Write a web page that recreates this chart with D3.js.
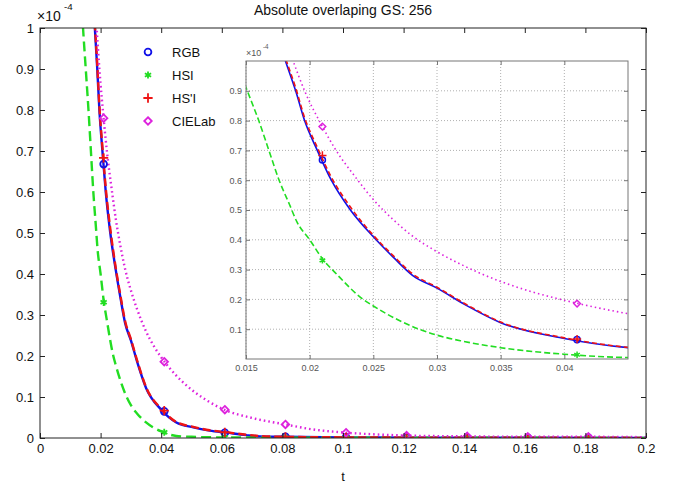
<!DOCTYPE html>
<html><head><meta charset="utf-8">
<script src="https://cdn.jsdelivr.net/npm/d3@7"></script>
<style>
body{margin:0;background:#fff}
svg{display:block}
text{font-family:"Liberation Sans",Arial,Helvetica,sans-serif}
</style>
</head><body>
<svg id="c" width="681" height="486"></svg>
<script>
// ---------------- DATA ----------------
const title = "Absolute overlaping GS: 256";
const xLabel = "t";
const seriesNames = ["RGB", "HSI", "HS'I", "CIELab"];

const tRGB = [0.0170, 0.0181, 0.0189, 0.0196, 0.0206, 0.0217, 0.0232, 0.0250, 0.0266, 0.0281, 0.0300, 0.0323, 0.0350, 0.0400, 0.0450, 0.0506, 0.0560, 0.0615, 0.0680, 0.0725, 0.0800, 0.1000, 0.1200, 0.1500, 0.2000];
const vRGB = [1.15, 1.0, 0.9, 0.8, 0.7, 0.6, 0.5, 0.41, 0.34, 0.28, 0.238, 0.18, 0.122, 0.069, 0.038, 0.026, 0.018, 0.013, 0.007, 0.004, 0.003, 0.0015, 0.001, 0.0007, 0.0004];

const tHSpI = tRGB;
const vHSpI = [1.16, 1.01, 0.91, 0.81, 0.71, 0.61, 0.51, 0.415, 0.345, 0.285, 0.241, 0.183, 0.124, 0.071, 0.039, 0.027, 0.019, 0.014, 0.008, 0.005, 0.003, 0.0016, 0.001, 0.0007, 0.0004];

const tHSI = [0.0130, 0.0142, 0.0151, 0.0160, 0.0168, 0.0176, 0.0184, 0.0190, 0.0200, 0.0211, 0.0220, 0.0242, 0.0250, 0.0270, 0.0286, 0.0300, 0.0320, 0.0350, 0.0400, 0.0450, 0.0500, 0.0600, 0.0800, 0.1000, 0.1500, 0.2000];
const vHSI = [1.15, 1.0, 0.9, 0.8, 0.7, 0.6, 0.52, 0.46, 0.4, 0.331, 0.29, 0.2, 0.178, 0.13, 0.1, 0.08, 0.06, 0.038, 0.016, 0.005, 0.003, 0.0015, 0.001, 0.0008, 0.0005, 0.0003];

const tLab = [0.0175, 0.0187, 0.0196, 0.0210, 0.0220, 0.0236, 0.0250, 0.0265, 0.0280, 0.0300, 0.0320, 0.0350, 0.0375, 0.0400, 0.0450, 0.0500, 0.0550, 0.0605, 0.0705, 0.0810, 0.0900, 0.1010, 0.1100, 0.1210, 0.1400, 0.1600, 0.1800, 0.2000];
const vLab = [1.15, 1.0, 0.9, 0.78, 0.705, 0.61, 0.535, 0.47, 0.415, 0.36, 0.315, 0.26, 0.225, 0.197, 0.152, 0.118, 0.092, 0.07, 0.048, 0.033, 0.021, 0.013, 0.009, 0.006, 0.004, 0.003, 0.003, 0.002];

const markT = [0.021, 0.041, 0.061, 0.081, 0.101, 0.121, 0.141, 0.161, 0.181];
const mRGB  = [0.668, 0.065, 0.013, 0.003, 0.0015, 0.001, 0.0007, 0.0005, 0.0004];
const mHSI  = [0.331, 0.014, 0.0015, 0.001, 0.0008, 0.0006, 0.0005, 0.0004, 0.0003];
const mHSpI = [0.683, 0.067, 0.014, 0.003, 0.0016, 0.001, 0.0007, 0.0005, 0.0004];
const mLab  = [0.78, 0.186, 0.069, 0.033, 0.013, 0.006, 0.004, 0.003, 0.003];

const xTicksMain = [0, 0.02, 0.04, 0.06, 0.08, 0.1, 0.12, 0.14, 0.16, 0.18, 0.2];
const xTickLabelsMain = ["0", "0.02", "0.04", "0.06", "0.08", "0.1", "0.12", "0.14", "0.16", "0.18", "0.2"];
const yTicksMain = [0, 0.1, 0.2, 0.3, 0.4, 0.5, 0.6, 0.7, 0.8, 0.9, 1];
const yTickLabelsMain = ["0", "0.1", "0.2", "0.3", "0.4", "0.5", "0.6", "0.7", "0.8", "0.9", "1"];
const xTicksInset = [0.015, 0.02, 0.025, 0.03, 0.035, 0.04];
const xTickLabelsInset = ["0.015", "0.02", "0.025", "0.03", "0.035", "0.04"];
const yTicksInset = [0.1, 0.2, 0.3, 0.4, 0.5, 0.6, 0.7, 0.8, 0.9];
const yTickLabelsInset = ["0.1", "0.2", "0.3", "0.4", "0.5", "0.6", "0.7", "0.8", "0.9"];

// ---------------- STYLE ----------------
const colors = {"RGB": "#1010e8", "HSI": "#22dd22", "HS'I": "#ee1414", "CIELab": "#dd22dd"};
const series = [
  {name: "RGB",    t: tRGB, v: vRGB, mv: mRGB},
  {name: "HSI",    t: tHSI, v: vHSI, mv: mHSI},
  {name: "HS'I",   t: tHSpI, v: vHSpI, mv: mHSpI},
  {name: "CIELab", t: tLab, v: vLab, mv: mLab}
];
const dashMain = {"RGB": null, "HSI": "10,5", "HS'I": "8,4", "CIELab": "1.6,3"};
const dashInset = {"RGB": null, "HSI": "6,3", "HS'I": "5,3", "CIELab": "1.5,3"};
const symType = {
  "RGB": d3.symbolCircle,
  "HSI": d3.symbolAsterisk || d3.symbolCross,
  "HS'I": d3.symbolPlus || d3.symbolCross,
  "CIELab": d3.symbolDiamond2 || d3.symbolDiamond
};
const symSize = {"RGB": 36, "HSI": 36, "HS'I": 30, "CIELab": 36};

const svg = d3.select("#c");
svg.append("rect").attr("width", 681).attr("height", 486).attr("fill", "#fff");
const defs = svg.append("defs");

function drawPanel(g, x, y, opts) {
  const [x0, x1] = x.range(), [y0, y1] = y.range();
  const clipId = opts.id + "clip";
  defs.append("clipPath").attr("id", clipId).append("rect")
    .attr("x", x0).attr("y", y1).attr("width", x1 - x0).attr("height", y0 - y1);
  g.append("rect").attr("x", x0).attr("y", y1).attr("width", x1 - x0).attr("height", y0 - y1)
    .attr("fill", "#fff");
  if (opts.grid) {
    const gg = g.append("g").attr("stroke", "#b0b0b0").attr("stroke-width", 1).attr("stroke-dasharray", "1,2");
    opts.xTicks.forEach(t => gg.append("line").attr("x1", x(t)).attr("x2", x(t)).attr("y1", y0).attr("y2", y1));
    opts.yTicks.forEach(t => gg.append("line").attr("x1", x0).attr("x2", x1).attr("y1", y(t)).attr("y2", y(t)));
  }
  const plot = g.append("g").attr("clip-path", `url(#${clipId})`);
  const line = d3.line().curve(d3.curveMonotoneX).x(d => x(d[0])).y(d => y(d[1]));
  series.forEach(s => {
    const pts = s.t.map((t, i) => [t, s.v[i]]);
    plot.append("path").attr("d", line(pts)).attr("fill", "none")
      .attr("stroke", colors[s.name]).attr("stroke-width", opts.lw)
      .attr("stroke-dasharray", opts.dash[s.name]);
  });
  series.forEach(s => {
    const sym = d3.symbol().type(symType[s.name]).size(symSize[s.name] * opts.ms);
    markT.forEach((t, i) => {
      plot.append("path").attr("d", sym())
        .attr("transform", `translate(${x(t)},${y(s.mv[i])})`)
        .attr("fill", "none").attr("stroke", colors[s.name]).attr("stroke-width", opts.mlw);
    });
  });
  const ac = opts.axisColor;
  const fmt = (ticks, labels) => (d => labels[ticks.indexOf(d)]);
  const ab = g.append("g").attr("transform", `translate(0,${y0})`)
    .call(d3.axisBottom(x).tickValues(opts.xTicks).tickFormat(fmt(opts.xTicks, opts.xLabels))
      .tickSizeInner(-opts.tick).tickSizeOuter(0).tickPadding(opts.xpad));
  const at = g.append("g").attr("transform", `translate(0,${y1})`)
    .call(d3.axisTop(x).tickValues(opts.xTicks).tickFormat("").tickSizeInner(-opts.tick).tickSizeOuter(0));
  const al = g.append("g").attr("transform", `translate(${x0},0)`)
    .call(d3.axisLeft(y).tickValues(opts.yTicks).tickFormat(fmt(opts.yTicks, opts.yLabels))
      .tickSizeInner(-opts.tick).tickSizeOuter(0).tickPadding(opts.ypad));
  const ar = g.append("g").attr("transform", `translate(${x1},0)`)
    .call(d3.axisRight(y).tickValues(opts.yTicks).tickFormat("").tickSizeInner(-opts.tick).tickSizeOuter(0));
  [ab, at, al, ar].forEach(a => {
    a.select(".domain").remove();
    a.selectAll("line").attr("stroke", ac);
    a.selectAll("text").attr("fill", opts.textColor).style("font-size", opts.fs + "px")
      .style("font-family", '"Liberation Sans",Arial,sans-serif');
  });
  g.append("rect").attr("x", x0).attr("y", y1).attr("width", x1 - x0).attr("height", y0 - y1)
    .attr("fill", "none").attr("stroke", ac).attr("stroke-width", 1);
  g.append("text").attr("x", opts.expX).attr("y", opts.expY).attr("fill", opts.textColor)
    .style("font-size", opts.expFs + "px").text("\u00d710");
  g.append("text").attr("x", opts.expX + opts.supDx).attr("y", opts.expY - opts.supDy).attr("fill", opts.textColor)
    .style("font-size", (opts.expFs * 0.7) + "px").text("-4");
}

const xMain = d3.scaleLinear().domain([0, 0.2]).range([40, 646]);
const yMain = d3.scaleLinear().domain([0, 1]).range([438, 28]);
drawPanel(svg.append("g"), xMain, yMain, {
  id: "main", grid: false, lw: 2.4, mlw: 1.8, ms: 1, dash: dashMain,
  xTicks: xTicksMain, xLabels: xTickLabelsMain, yTicks: yTicksMain, yLabels: yTickLabelsMain,
  tick: 5, xpad: 6, ypad: 6, fs: 13, axisColor: "#222", textColor: "#111",
  expX: 37, expY: 21, expFs: 14, supDx: 27, supDy: 11
});

const xIn = d3.scaleLinear().domain([0.015, 0.045]).range([246, 628]);
const yIn = d3.scaleLinear().domain([0, 1]).range([359, 61]);
drawPanel(svg.append("g"), xIn, yIn, {
  id: "inset", grid: true, lw: 1.6, mlw: 1.5, ms: 0.8, dash: dashInset,
  xTicks: xTicksInset, xLabels: xTickLabelsInset, yTicks: yTicksInset, yLabels: yTickLabelsInset,
  tick: 4, xpad: 6, ypad: 4, fs: 9, axisColor: "#777", textColor: "#555",
  expX: 246, expY: 56, expFs: 9, supDx: 17, supDy: 7
});

svg.append("text").attr("x", 343).attr("y", 15).attr("text-anchor", "middle")
  .attr("fill", "#111").style("font-size", "14px").text(title);
svg.append("text").attr("x", 343).attr("y", 481).attr("text-anchor", "middle")
  .attr("fill", "#111").style("font-size", "13px").text(xLabel);

const leg = svg.append("g");
seriesNames.forEach((n, i) => {
  const yy = 52 + i * 23;
  leg.append("path").attr("d", d3.symbol().type(symType[n]).size(symSize[n])())
    .attr("transform", `translate(148,${yy})`).attr("fill", "none")
    .attr("stroke", colors[n]).attr("stroke-width", 1.8);
  leg.append("text").attr("x", 172).attr("y", yy + 5).attr("fill", "#111")
    .style("font-size", "13px").text(n);
});
</script>
</body></html>
